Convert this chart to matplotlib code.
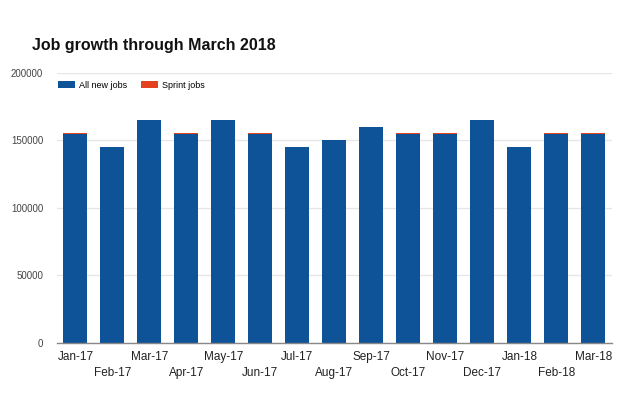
import matplotlib.pyplot as plt
import numpy as np

plt.rcParams['font.family'] = ['Liberation Sans', 'DejaVu Sans']

months = ["Jan-17", "Feb-17", "Mar-17", "Apr-17", "May-17", "Jun-17", "Jul-17",
          "Aug-17", "Sep-17", "Oct-17", "Nov-17", "Dec-17", "Jan-18", "Feb-18", "Mar-18"]
all_new_jobs = [155000, 145000, 165000, 155000, 165000, 155000, 145000,
                150000, 160000, 155000, 155000, 165000, 145000, 155000, 155000]
sprint_jobs = [250, 250, 250, 250, 250, 250, 250,
               250, 250, 250, 250, 250, 250, 250, 250]

blue = '#0e5298'
red = '#e2431e'

fig = plt.figure(figsize=(6.4, 4.11), dpi=100)
ax = fig.add_axes([0.089, 0.1655, 0.867, 0.657])

x = np.arange(len(months))
ax.bar(x, all_new_jobs, width=0.65, color=blue, label='All new jobs', zorder=2)
ax.bar(x, sprint_jobs, width=0.65, bottom=all_new_jobs, color=red,
       label='Sprint jobs', zorder=2)

ax.set_xlim(-0.5, len(months) - 0.5)
ax.set_ylim(0, 200000)
ax.set_yticks([0, 50000, 100000, 150000, 200000])
ax.set_yticklabels(['0', '50000', '100000', '150000', '200000'])
ax.grid(axis='y', color='#e6e6e6', linewidth=0.9, zorder=0)

labels = [m if i % 2 == 0 else '\n' + m for i, m in enumerate(months)]
ax.set_xticks(x)
ax.set_xticklabels(labels, fontsize=8.5, color='#222222', linespacing=1.45)
ax.tick_params(axis='x', length=0, pad=6)
ax.tick_params(axis='y', length=0, pad=10, labelsize=7, colors='#444444')

for side in ['top', 'right', 'left']:
    ax.spines[side].set_visible(False)
ax.spines['bottom'].set_color('#888888')
ax.spines['bottom'].set_linewidth(1.0)

ax.legend(loc='upper left', bbox_to_anchor=(-0.012, 1.0), ncol=2, frameon=False,
          fontsize=6.5, handlelength=1.8, handleheight=0.8, columnspacing=1.6,
          handletextpad=0.45)

fig.text(0.05, 0.878, 'Job growth through March 2018', fontsize=11.5,
         fontweight='bold', color='#111111')

fig.savefig('out.png', dpi=100)
